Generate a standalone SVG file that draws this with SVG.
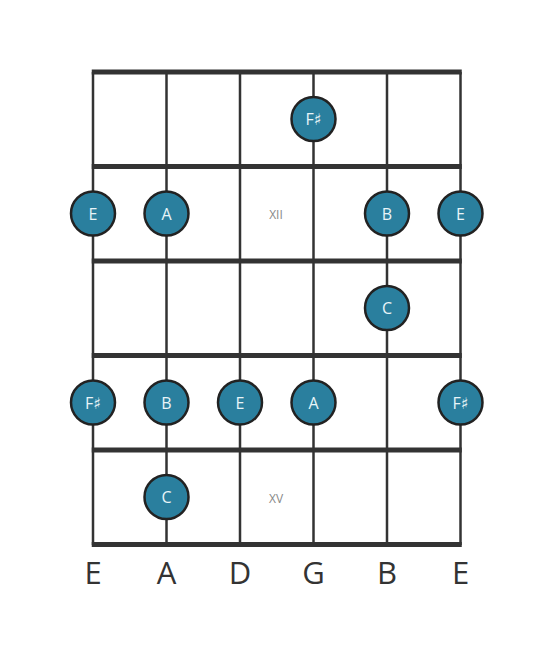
<svg xmlns="http://www.w3.org/2000/svg" width="553" height="656" viewBox="0 0 553 656">
<style>
.fret{stroke:#333;stroke-width:5;stroke-linecap:butt}
.str{stroke:#333;stroke-width:2.5}
.dot circle{fill:#2a7f9e;stroke:#222;stroke-width:2.5}
.dot text{fill:#e8f4f8;font-family:"Open Sans","DejaVu Sans",sans-serif;font-size:16px;text-anchor:middle;dominant-baseline:central}
.pos{fill:#888;font-family:"Open Sans","DejaVu Sans",sans-serif;font-size:12px;text-anchor:middle;dominant-baseline:central}
.sl{fill:#333;font-family:"Open Sans","DejaVu Sans",sans-serif;font-size:31px;text-anchor:middle}
</style>
<rect width="553" height="656" fill="#fff"/>
<g id="connectors">
<line class="str" x1="93" y1="72" x2="93" y2="545"/>
<line class="str" x1="166.5" y1="72" x2="166.5" y2="545"/>
<line class="str" x1="240" y1="72" x2="240" y2="545"/>
<line class="str" x1="313.5" y1="72" x2="313.5" y2="545"/>
<line class="str" x1="387" y1="72" x2="387" y2="545"/>
<line class="str" x1="460.5" y1="72" x2="460.5" y2="545"/>
<line class="fret" x1="91.75" y1="72" x2="461.75" y2="72"/>
<line class="fret" x1="91.75" y1="166.5" x2="461.75" y2="166.5"/>
<line class="fret" x1="91.75" y1="261" x2="461.75" y2="261"/>
<line class="fret" x1="91.75" y1="355.5" x2="461.75" y2="355.5"/>
<line class="fret" x1="91.75" y1="450" x2="461.75" y2="450"/>
<line class="fret" x1="91.75" y1="544.5" x2="461.75" y2="544.5"/>
</g>
<text class="pos" x="276" y="214">XII</text>
<text class="pos" x="276" y="498">XV</text>
<g id="n1" class="dot"><circle cx="313.5" cy="119" r="22"/><text x="313.5" y="119">F♯</text></g>
<g id="n2" class="dot"><circle cx="93" cy="213.5" r="22"/><text x="93" y="213.5">E</text></g>
<g id="n3" class="dot"><circle cx="166.5" cy="213.5" r="22"/><text x="166.5" y="213.5">A</text></g>
<g id="n4" class="dot"><circle cx="387" cy="213.5" r="22"/><text x="387" y="213.5">B</text></g>
<g id="n5" class="dot"><circle cx="460.5" cy="213.5" r="22"/><text x="460.5" y="213.5">E</text></g>
<g id="n6" class="dot"><circle cx="387" cy="308" r="22"/><text x="387" y="308">C</text></g>
<g id="n7" class="dot"><circle cx="93" cy="402.5" r="22"/><text x="93" y="402.5">F♯</text></g>
<g id="n8" class="dot"><circle cx="166.5" cy="402.5" r="22"/><text x="166.5" y="402.5">B</text></g>
<g id="n9" class="dot"><circle cx="240" cy="402.5" r="22"/><text x="240" y="402.5">E</text></g>
<g id="n10" class="dot"><circle cx="313.5" cy="402.5" r="22"/><text x="313.5" y="402.5">A</text></g>
<g id="n11" class="dot"><circle cx="460.5" cy="402.5" r="22"/><text x="460.5" y="402.5">F♯</text></g>
<g id="n12" class="dot"><circle cx="166.5" cy="497" r="22"/><text x="166.5" y="497">C</text></g>
<g id="labels">
<text class="sl" x="93" y="584">E</text>
<text class="sl" x="166.5" y="584">A</text>
<text class="sl" x="240" y="584">D</text>
<text class="sl" x="313.5" y="584">G</text>
<text class="sl" x="387" y="584">B</text>
<text class="sl" x="460.5" y="584">E</text>
</g>
</svg>
